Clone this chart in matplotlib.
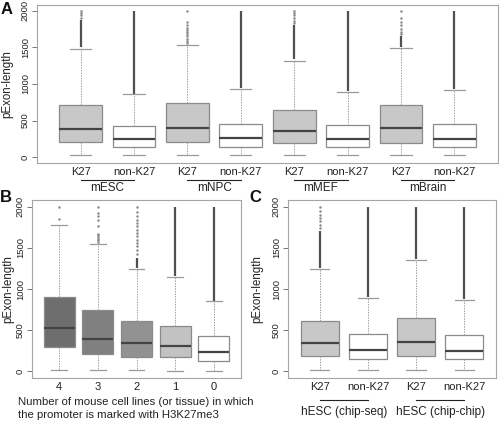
import matplotlib
matplotlib.use("Agg")
import matplotlib.pyplot as plt
from matplotlib.transforms import blended_transform_factory

plt.rcParams['font.family'] = ['Liberation Sans', 'DejaVu Sans']

# ---- panel A: mouse cell lines, K27 vs non-K27
a_ticks = ["K27", "non-K27"] * 4
a_groups = ["mESC", "mNPC", "mMEF", "mBrain"]
a_q1 = [208, 140, 208, 140, 190, 140, 190, 140]
a_med = [390, 245, 404, 263, 358, 254, 395, 254]
a_q3 = [707, 426, 735, 453, 644, 440, 712, 449]
a_lo = [27, 27, 27, 27, 27, 27, 27, 27]
a_hi = [1483, 857, 1533, 935, 1320, 893, 1488, 920]
a_out = [[1900, 1940, 1970, 2000], [],
         [1560, 1590, 1620, 1650, 1680, 1710, 1740, 1770, 1800, 1850, 2000], [],
         [1830, 1860, 1900, 1940, 1970, 2000], [],
         [1680, 1710, 1750, 1800, 1850, 1900, 2000], []]
a_dense = [(1500, 1880), (870, 2000), None, (950, 2000),
           (1340, 1800), (900, 2000), (1500, 1650), (930, 2000)]

# ---- panel B: number of marked mouse cell lines
b_ticks = ["4", "3", "2", "1", "0"]
b_q1 = [292, 208, 180, 172, 132]
b_med = [524, 396, 348, 312, 240]
b_q3 = [908, 748, 608, 556, 428]
b_lo = [12, 12, 20, 8, 8]
b_hi = [1771, 1547, 1240, 1151, 860]
b_out = [[1851, 2000],
         [1570, 1590, 1610, 1630, 1650, 1665, 1770, 1840, 1880, 1920, 2000],
         [1420, 1470, 1520, 1560, 1600, 1640, 1680, 1720, 1760, 1800, 1840,
          1880, 1940, 2000],
         [], []]
b_dense = [None, None, (1250, 1380), (1160, 2000), (860, 2000)]

# ---- panel C: human ES cells
c_ticks = ["K27", "non-K27"] * 2
c_groups = ["hESC (chip-seq)", "hESC (chip-chip)"]
c_q1 = [188, 149, 192, 149]
c_med = [348, 260, 360, 252]
c_q3 = [611, 448, 652, 436]
c_lo = [12, 12, 12, 12]
c_hi = [1247, 892, 1351, 872]
c_out = [[1740, 1780, 1820, 1860, 1900, 1950, 2000], [], [], []]
c_dense = [(1260, 1700), (900, 2000), (1360, 2000), (880, 2000)]

W, H = 499, 422
fig = plt.figure(figsize=(W / 100, H / 100), dpi=100)


def px_axes(left, top, right, bottom):
    return fig.add_axes([left / W, 1 - bottom / H, (right - left) / W, (bottom - top) / H])


def draw(ax, q1, med, q3, lo, hi, out, dense, fills, ticks):
    n = len(med)
    pos = list(range(1, n + 1))
    stats = [dict(q1=q1[i], med=med[i], q3=q3[i], whislo=lo[i], whishi=hi[i],
                  fliers=out[i]) for i in range(n)]
    bp = ax.bxp(stats, positions=pos, widths=0.8, capwidths=0.4,
                patch_artist=True, showfliers=True,
                boxprops=dict(edgecolor='#8a8a8a', linewidth=0.9),
                medianprops=dict(color='#444444', linewidth=1.6),
                whiskerprops=dict(color='#a0a0a0', linewidth=0.7,
                                  linestyle=(0, (1.5, 1.2))),
                capprops=dict(color='#9a9a9a', linewidth=0.9),
                flierprops=dict(marker='o', markersize=1.8,
                                markerfacecolor='#8a8a8a',
                                markeredgecolor='none'))
    for patch, fc in zip(bp['boxes'], fills):
        patch.set_facecolor(fc)
    for p, d in zip(pos, dense):
        if d:
            ax.vlines(p, d[0], d[1], color='#505050', linewidth=1.6)
    ax.set_xlim(0.5 - 0.04 * n, n + 0.5 + 0.04 * n)
    ax.set_ylim(-80, 2080)
    ax.set_yticks([0, 500, 1000, 1500, 2000])
    ax.set_xticks(pos)
    ax.set_xticklabels(ticks, fontsize=8, color='#222222')
    ax.tick_params(axis='x', length=0, pad=3)
    ax.tick_params(axis='y', length=3.6, width=0.7, color='#777777',
                   labelsize=6.8, labelcolor='#222222', pad=1.5,
                   labelrotation=90)
    for lab in ax.get_yticklabels():
        lab.set_verticalalignment('center')
    for s in ax.spines.values():
        s.set_color('#a5a5a5')
        s.set_linewidth(0.8)
    ax.set_ylabel('pExon-length', fontsize=8.3, color='#222222')


def groups(ax, names, line_y, text_y):
    tr = blended_transform_factory(ax.transData, fig.transFigure)
    for i, name in enumerate(names):
        x0, x1 = 2 * i + 1, 2 * i + 2
        ax.plot([x0, x1], [1 - line_y / H] * 2, color='#222222', lw=0.8,
                transform=tr, clip_on=False)
        ax.text((x0 + x1) / 2, 1 - text_y / H, name, transform=tr,
                ha='center', va='center', fontsize=8.5, color='#222222')


gray_k27 = '#c8c8c8'

axA = px_axes(37, 5, 498, 163)
draw(axA, a_q1, a_med, a_q3, a_lo, a_hi, a_out, a_dense,
     [gray_k27, 'white'] * 4, a_ticks)
axA.yaxis.set_label_coords(-0.052, 0.5)
groups(axA, a_groups, 180, 188)

axB = px_axes(32, 200, 241, 378)
draw(axB, b_q1, b_med, b_q3, b_lo, b_hi, b_out, b_dense,
     ['#6e6e6e', '#808080', '#929292', '#c2c2c2', 'white'], b_ticks)
axB.yaxis.set_label_coords(-0.085, 0.5)
fig.text(18 / W, 1 - 402 / H, 'Number of mouse cell lines (or tissue) in which',
         ha='left', va='center', fontsize=8.2, color='#222222')
fig.text(18 / W, 1 - 415 / H, 'the promoter is marked with H3K27me3',
         ha='left', va='center', fontsize=8.2, color='#222222')

axC = px_axes(288, 200, 496, 378)
draw(axC, c_q1, c_med, c_q3, c_lo, c_hi, c_out, c_dense,
     [gray_k27, 'white'] * 2, c_ticks)
axC.yaxis.set_label_coords(-0.12, 0.5)
groups(axC, c_groups, 400, 412)

for letter, x, y in [('A', 7, 9), ('B', 6, 197), ('C', 255, 197)]:
    fig.text(x / W, 1 - y / H, letter, ha='center', va='center',
             fontsize=12, fontweight='bold', color='#111111')

fig.savefig('out.png', dpi=100)
